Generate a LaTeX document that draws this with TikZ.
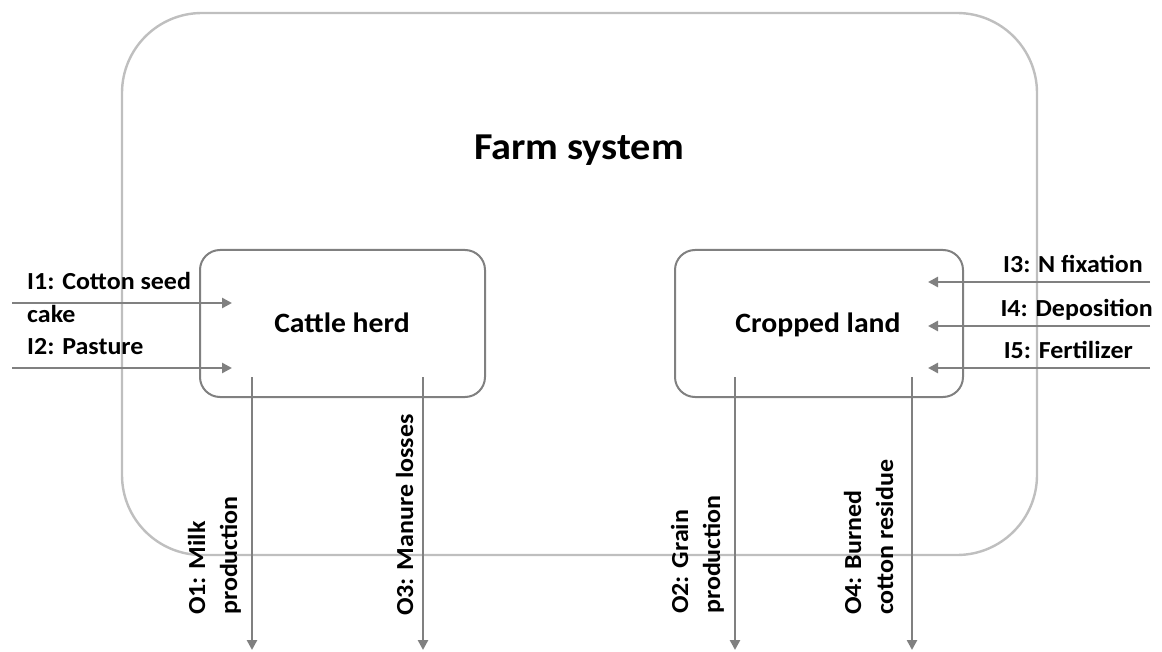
\documentclass[tikz,border=0pt]{standalone}
\usepackage{fontspec}
\setmainfont{Carlito}[FakeStretch=1.06]
\usetikzlibrary{arrows.meta}
\definecolor{outerc}{HTML}{BFBFBF}
\definecolor{linec}{HTML}{808080}
\tikzset{
  x=1pt,y=-1pt,
  outerbox/.style={draw=outerc,line width=2.4pt,rounded corners=80pt},
  unitbox/.style={draw=linec,line width=2pt,rounded corners=20pt},
  flow/.style={draw=linec,line width=2.6pt,-{Triangle[length=10pt,width=10pt]}},
  lbl/.style={font=\bfseries\fontsize{24.5}{33}\selectfont,inner sep=0pt,align=left},
  vlbl/.style={font=\bfseries\fontsize{24.5}{32}\selectfont,inner sep=0pt,align=left,rotate=90},
  unitlbl/.style={font=\bfseries\fontsize{28}{32}\selectfont,inner sep=0pt},
}
\begin{document}
\begin{tikzpicture}
\useasboundingbox (0,0) rectangle (1162,652);
\path[outerbox] (122,13) rectangle (1037,555);
\node[font=\bfseries\fontsize{38}{44}\selectfont,inner sep=0pt,anchor=base] (farm) at (579,160) {Farm system};
\path[unitbox] (200,250) rectangle (485,397);
\path[unitbox] (675,250) rectangle (963,397);
\node[unitlbl,anchor=base] (cattle) at (342,333) {Cattle herd};
\node[unitlbl,anchor=base] (crop) at (818,333) {Cropped land};
% input coordinates
\coordinate (i1s) at (12,303);  \coordinate (i1e) at (232,303);
\coordinate (i2s) at (12,368);  \coordinate (i2e) at (232,368);
\coordinate (i3s) at (1150,282); \coordinate (i3e) at (928,282);
\coordinate (i4s) at (1150,326); \coordinate (i4e) at (928,326);
\coordinate (i5s) at (1150,368); \coordinate (i5e) at (928,368);
\draw[flow] (i1s) -- (i1e);
\draw[flow] (i2s) -- (i2e);
\draw[flow] (i3s) -- (i3e);
\draw[flow] (i4s) -- (i4e);
\draw[flow] (i5s) -- (i5e);
% outputs
\coordinate (o1s) at (252,377); \coordinate (o1e) at (252,650);
\coordinate (o3s) at (423,377); \coordinate (o3e) at (423,650);
\coordinate (o2s) at (735,377); \coordinate (o2e) at (735,650);
\coordinate (o4s) at (912,377); \coordinate (o4e) at (912,650);
\draw[flow] (o1s) -- (o1e);
\draw[flow] (o3s) -- (o3e);
\draw[flow] (o2s) -- (o2e);
\draw[flow] (o4s) -- (o4e);
% input labels
\node[lbl,anchor=base west] (l1) at (27,323) {I1: Cotton seed\\cake};
\node[lbl,anchor=base west] (l2) at (27,355) {I2: Pasture};
\node[lbl,anchor=base east] (l3) at (1143,273) {I3: N fixation};
\node[lbl,anchor=base east] (l4) at (1153,317) {I4: Deposition};
\node[lbl,anchor=base east] (l5) at (1133,358) {I5: Fertilizer};
% output labels
\node[vlbl,anchor=base west] (lo1) at (237,615) {O1: Milk\\production};
\node[vlbl,anchor=base west] (lo3) at (413,616) {O3: Manure losses};
\node[vlbl,anchor=base west] (lo2) at (720,614) {O2: Grain\\production};
\node[vlbl,anchor=base west] (lo4) at (893,615) {O4: Burned\\cotton residue};
\end{tikzpicture}
\end{document}
